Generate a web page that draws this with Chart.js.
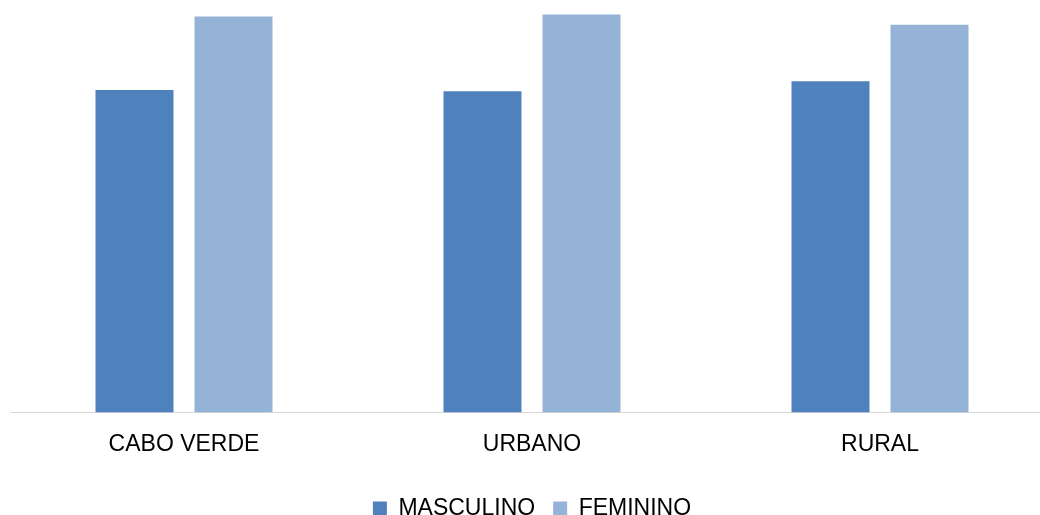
<!DOCTYPE html>
<html>
<head>
<meta charset="utf-8">
<script src="https://cdn.jsdelivr.net/npm/chart.js@4"></script>
<style>
    html, body {
        margin: 0;
        padding: 0;
        background: #ffffff;
        overflow: hidden;
    }
    #wrap {
        width: 1040px;
        height: 515px;
        overflow: hidden;
    }
</style>
</head>
<body>
<div id="wrap"><canvas id="chart" width="1054" height="530"></canvas></div>
<script>
const categories = ["CABO VERDE", "URBANO", "RURAL"];
const seriesNames = ["MASCULINO", "FEMININO"];
const masculino = [78.2, 77.9, 80.3];
const feminino = [96.0, 96.5, 94.0];

const ctx = document.getElementById("chart").getContext("2d");

const chart = new Chart(ctx, {
    type: "bar",
    data: {
        labels: categories,
        datasets: [
            {
                label: seriesNames[0],
                data: masculino,
                backgroundColor: "#4F81BD"
            },
            {
                label: seriesNames[1],
                data: feminino,
                backgroundColor: "#95B3D7"
            }
        ]
    },
    options: {
        responsive: false,
        animation: false,
        layout: {
            padding: { left: 10, right: 0, top: 0, bottom: 0 }
        },
        datasets: {
            bar: {
                categoryPercentage: 0.569,
                barPercentage: 0.788
            }
        },
        plugins: {
            legend: {
                position: "bottom",
                labels: {
                    font: { family: "Liberation Sans, Arial", size: 23 },
                    color: "#000000",
                    boxWidth: 14,
                    boxHeight: 14,
                    padding: 18
                }
            },
            tooltip: { enabled: false }
        },
        scales: {
            x: {
                grid: { display: false },
                border: { color: "#d9d9d9", width: 1 },
                ticks: {
                    font: { family: "Liberation Sans, Arial", size: 23 },
                    color: "#000000",
                    padding: 10
                },
                afterFit: function(scale) {
                    scale.height = 66.5;
                }
            },
            y: {
                display: false,
                min: 0,
                max: 100
            }
        }
    }
});
</script>
</body>
</html>
